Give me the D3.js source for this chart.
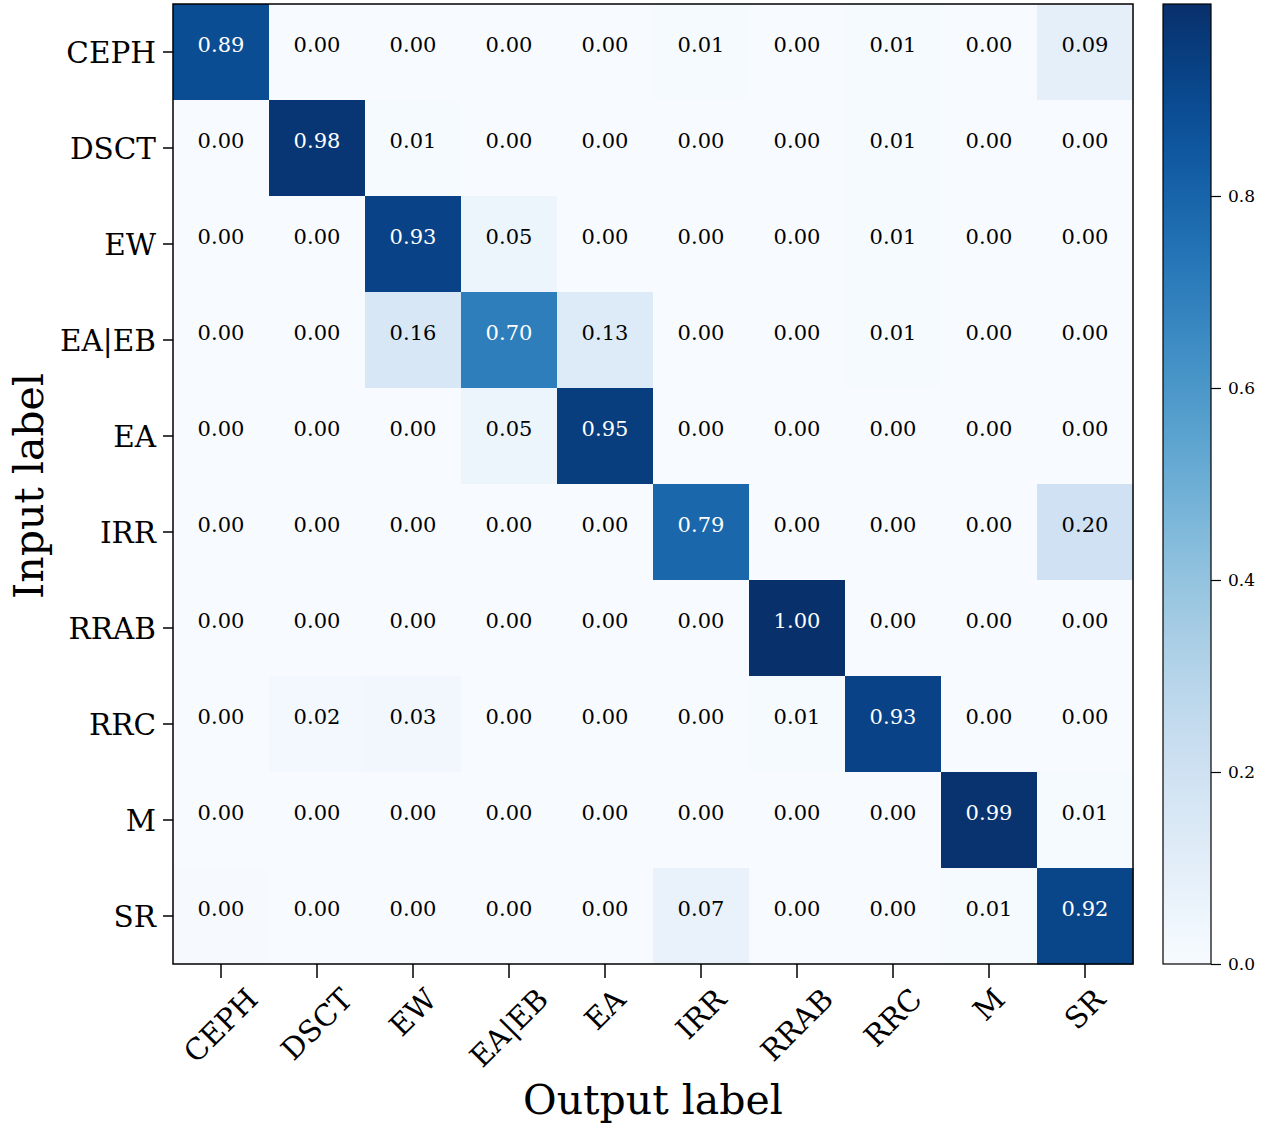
<!DOCTYPE html>
<html><head><meta charset="utf-8">
<script src="https://cdn.jsdelivr.net/npm/d3@7"></script>
<style>
html,body{margin:0;padding:0;background:#fff;}
text{font-family:"DejaVu Serif",serif;fill:#000;}
</style></head>
<body><svg id="c" width="1269" height="1124"></svg>
<script>
const outputLabels = ["CEPH","DSCT","EW","EA|EB","EA","IRR","RRAB","RRC","M","SR"];
const inputLabels  = ["CEPH","DSCT","EW","EA|EB","EA","IRR","RRAB","RRC","M","SR"];
const rowCEPH = [0.89,0.00,0.00,0.00,0.00,0.01,0.00,0.01,0.00,0.09];
const rowDSCT = [0.00,0.98,0.01,0.00,0.00,0.00,0.00,0.01,0.00,0.00];
const rowEW   = [0.00,0.00,0.93,0.05,0.00,0.00,0.00,0.01,0.00,0.00];
const rowEAEB = [0.00,0.00,0.16,0.70,0.13,0.00,0.00,0.01,0.00,0.00];
const rowEA   = [0.00,0.00,0.00,0.05,0.95,0.00,0.00,0.00,0.00,0.00];
const rowIRR  = [0.00,0.00,0.00,0.00,0.00,0.79,0.00,0.00,0.00,0.20];
const rowRRAB = [0.00,0.00,0.00,0.00,0.00,0.00,1.00,0.00,0.00,0.00];
const rowRRC  = [0.00,0.02,0.03,0.00,0.00,0.00,0.01,0.93,0.00,0.00];
const rowM    = [0.00,0.00,0.00,0.00,0.00,0.00,0.00,0.00,0.99,0.01];
const rowSR   = [0.004,0.00,0.00,0.00,0.00,0.07,0.00,0.00,0.01,0.92];
const matrix = [rowCEPH,rowDSCT,rowEW,rowEAEB,rowEA,rowIRR,rowRRAB,rowRRC,rowM,rowSR];
const cbTicks = [0.0,0.2,0.4,0.6,0.8];

const svg = d3.select("#c");
const L=173,T=4,W=960,H=960;
const x = d3.scaleBand().domain(outputLabels).range([L,L+W]);
const y = d3.scaleBand().domain(inputLabels).range([T,T+H]);
const color = d3.scaleSequential(d3.interpolateBlues).domain([0,1]);

const cells=[];
matrix.forEach((r,i)=>r.forEach((v,j)=>cells.push({r:inputLabels[i],c:outputLabels[j],v})));
svg.append("g").selectAll("rect").data(cells).join("rect")
  .attr("x",d=>x(d.c)).attr("y",d=>y(d.r))
  .attr("width",x.bandwidth()+0.5).attr("height",y.bandwidth()+0.5)
  .attr("fill",d=>color(d.v));
svg.append("g").selectAll("text").data(cells).join("text")
  .attr("x",d=>x(d.c)+x.bandwidth()/2).attr("y",d=>y(d.r)+y.bandwidth()/2)
  .attr("text-anchor","middle")
  .style("font-size","21px")
  .style("fill",d=>d.v>0.5?"#fff":"#000")
  .text(d=>d.v.toFixed(2));

svg.append("rect").attr("x",L).attr("y",T).attr("width",W).attr("height",H)
  .attr("fill","none").attr("stroke","#000").attr("stroke-width",1.5);

// y axis
const ya = svg.append("g").attr("transform",`translate(${L},0)`)
  .call(d3.axisLeft(y).tickSize(10).tickPadding(7));
ya.select(".domain").remove();
ya.selectAll("line").attr("stroke","#000").attr("stroke-width",1.5);
ya.selectAll("text").style("font-size","29.5px").attr("font-family",null).attr("dy","0.36em");

// x axis
const xa = svg.append("g").attr("transform",`translate(0,${T+H})`)
  .call(d3.axisBottom(x).tickSize(14));
xa.select(".domain").remove();
xa.selectAll("line").attr("stroke","#000").attr("stroke-width",1.5);
xa.selectAll("text").style("font-size","29.5px").attr("font-family",null)
  .attr("dy",null).attr("text-anchor","middle").attr("dominant-baseline","central")
  .each(function(d){
    const b=this.getBBox();
    const w=b.width,h=b.height*0.75;
    const off=(w+h)/(2*Math.SQRT2);
    d3.select(this).attr("y",21+off).attr("transform",`rotate(-45,0,${21+off})`);
  });

svg.append("text").attr("x",653).attr("y",1114).attr("text-anchor","middle")
  .style("font-size","41px").text("Output label");
svg.append("text").attr("transform",`translate(43,${486}) rotate(-90)`)
  .attr("text-anchor","middle").style("font-size","41px").text("Input label");

// colorbar
const cbX=1163,cbW=48;
const defs=svg.append("defs");
const grad=defs.append("linearGradient").attr("id","cbg").attr("x1",0).attr("y1",1).attr("x2",0).attr("y2",0);
d3.range(0,1.0001,0.05).forEach(t=>grad.append("stop").attr("offset",t).attr("stop-color",color(t)));
svg.append("rect").attr("x",cbX).attr("y",T).attr("width",cbW).attr("height",H).attr("fill","url(#cbg)")
  .attr("stroke","#000").attr("stroke-width",1.2);
const cy=d3.scaleLinear().domain([0,1]).range([T+H,T]);
const ca=svg.append("g").attr("transform",`translate(${cbX+cbW},0)`)
  .call(d3.axisRight(cy).tickValues(cbTicks).tickFormat(d3.format(".1f")).tickSize(10).tickPadding(7));
ca.select(".domain").remove();
ca.selectAll("line").attr("stroke","#000").attr("stroke-width",1.2);
ca.selectAll("text").style("font-size","17px").attr("font-family",null);
</script></body></html>
